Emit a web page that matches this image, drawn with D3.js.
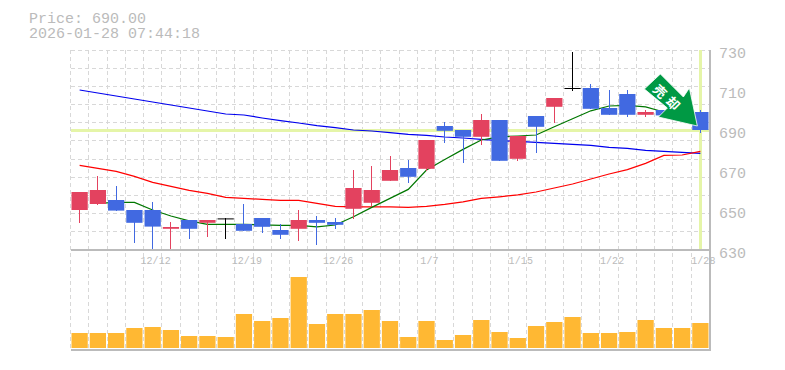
<!DOCTYPE html>
<html>
<head>
<meta charset="utf-8">
<script src="https://cdn.jsdelivr.net/npm/d3@7/dist/d3.min.js"></script>
<style>
html,body{margin:0;padding:0;background:#fff;overflow:hidden}
svg{display:block}
text{font-family:"Liberation Mono",monospace;fill:#bbb}
</style>
</head>
<body>
<svg width="785" height="370"></svg>
<script>
var opens  = [650,653,655,650,650,640.6,645,643.6,645.8,643,646,640,640.6,645,644,650.6,653.6,664.6,671,670.6,692,690,686.6,695,675.6,697,701.6,711,711,701,708,697.6,700,698,699];
var closes = [659,660,649.7,643.6,641.7,641.5,640.6,645,645.8,639.6,641.6,637.6,645,643.6,642.6,661,660,670,666.6,685,689.6,686.6,695,674.6,687,691.6,706,711,700.6,697.6,697.6,699,697.3,696,690];
var highs  = [659,667,662,650,654,644,645,645,645.8,653,646,643,650,647,646,670,672,677,675,685,694,690,698,695,687,697,706,729,713,710,710,700,700,699,700];
var lows   = [643.6,652.5,649.7,633.6,630.6,630.6,635.6,636.6,635.6,639.6,638.6,635.6,634.6,632.6,640.6,645.6,652,664.6,663.6,669.5,683.6,673.6,682.6,674.6,674.6,678.6,693.6,709.6,700.6,697.6,696.6,696.6,697,695,688.6];
var maShort = [null,653.3,653.8,653.8,650,647,644.6,642.8,642.8,642.8,642.6,642.3,642.3,641.6,642.5,646.6,651.3,655.8,660.3,670,675.3,680.3,685,686.6,687,687.5,691.6,695.6,699.6,702,702.3,701.6,699,698,697];
var maMid   = [672.3,670.8,669.3,666.8,663.8,661.8,659.8,658.3,656.3,655.8,655.3,654.8,654.8,653.3,651.8,651.6,651.6,651.6,651.3,651.8,652.8,654.1,655.8,656.6,657.6,659,661,663,665.5,668,670.2,673.3,677.3,677.5,679.3];
var maLong  = [710,708.5,707,705.5,704,702.5,701,699.5,698,697.5,696,694.7,693.5,692.2,691.2,690,689.5,688.7,687.8,687.3,686.5,686,685.3,684.7,684.3,683.8,683.3,682.8,682.3,681.3,680.8,679.8,679.3,678.8,678.3];
var volumes = [15,15,15,20,21,18,12,12,11,34,27,30,71,24,34,34,38,27,11,27,8,13,28,16,10,22,26,31,15,15,16,28,20,20,25];
var tickBars = [4,9,14,19,24,29,34];
var tickLabels = ["12/12","12/19","12/26","1/7","1/15","1/22","1/28"];
var priceTicks = [630,650,670,690,710,730];
var priceNow = 690;
var titleLines = ["Price: 690.00","2026-01-28 07:44:18"];
var signalText = ["売","却"];

var svg = d3.select("svg");
var plotLeft = 70.5, plotRight = 709.5, plotTop = 50, plotMid = 250, plotBottom = 350;

var x = d3.scaleBand().domain(d3.range(opens.length)).range([plotLeft,plotRight]).paddingInner(0.11).paddingOuter(0.055);
var step = x.step();
var y = d3.scaleLinear().domain([630,730]).range([plotMid,plotTop]);
var yVol = d3.scaleLinear().domain([0,98]).range([plotBottom-2,plotMid]);
var cx = function(i){return x(i)+x.bandwidth()/2;};

// grid
var gridX = d3.range(opens.length+1).map(function(i){return plotLeft+i*step;});
var gridY = d3.range(11).map(function(i){return plotTop+i*(plotMid-plotTop)/11;});
var grid = svg.append("g").attr("stroke","#d8d8d8").attr("stroke-dasharray","4,3").attr("shape-rendering","crispEdges");
grid.selectAll(".gx").data(gridX).enter().append("line").attr("x1",function(d){return d;}).attr("x2",function(d){return d;}).attr("y1",plotTop).attr("y2",plotBottom);
grid.selectAll(".gy").data(gridY).enter().append("line").attr("x1",plotLeft).attr("x2",plotRight).attr("y1",function(d){return d;}).attr("y2",function(d){return d;});

// current price cross
var cross = svg.append("g").attr("stroke","#e5f5a8").attr("stroke-width",3).attr("shape-rendering","crispEdges");
cross.append("line").attr("x1",plotLeft).attr("x2",plotRight).attr("y1",y(priceNow)).attr("y2",y(priceNow));
cross.append("line").attr("x1",cx(opens.length-1)).attr("x2",cx(opens.length-1)).attr("y1",plotTop).attr("y2",plotMid);

// frame
var frame = svg.append("g").attr("stroke","#bbb").attr("stroke-width",1.5).attr("shape-rendering","crispEdges");
frame.append("line").attr("x1",plotLeft).attr("x2",plotRight+1).attr("y1",plotMid).attr("y2",plotMid);
frame.append("line").attr("x1",plotLeft).attr("x2",plotRight+1).attr("y1",plotBottom).attr("y2",plotBottom);
frame.append("line").attr("x1",plotRight+0.5).attr("x2",plotRight+0.5).attr("y1",plotTop).attr("y2",plotBottom);

// moving averages
[[maLong,"#0000ee"],[maMid,"#ff0000"],[maShort,"#007700"]].forEach(function(s){
    var line = d3.line().defined(function(d){return d!==null;}).x(function(d,i){return cx(i);}).y(function(d){return y(d);});
    svg.append("path").datum(s[0]).attr("fill","none").attr("stroke",s[1]).attr("stroke-width",1.2).attr("d",line);
});

// candles
var color = function(i){
    if(opens[i]===closes[i]) return "#000";
    return closes[i]>opens[i] ? "#e3425f" : "#4169e1";
};
var candles = svg.append("g").selectAll("g").data(d3.range(opens.length)).enter().append("g");
candles.append("line").attr("shape-rendering","crispEdges")
    .attr("x1",cx).attr("x2",cx)
    .attr("y1",function(i){return y(highs[i]);}).attr("y2",function(i){return y(lows[i]);})
    .attr("stroke",color).attr("stroke-width",1);
candles.append("rect")
    .attr("x",function(i){return x(i);})
    .attr("width",x.bandwidth())
    .attr("y",function(i){return y(Math.max(opens[i],closes[i]));})
    .attr("height",function(i){return Math.max(1,Math.abs(y(opens[i])-y(closes[i])));})
    .attr("fill",color);

// volume
svg.append("g").selectAll("rect").data(volumes).enter().append("rect")
    .attr("x",function(d,i){return x(i);})
    .attr("width",x.bandwidth())
    .attr("y",function(d){return yVol(d);})
    .attr("height",function(d){return yVol(0)-yVol(d);})
    .attr("fill","#ffb833");

// axes text
svg.append("g").selectAll("text").data(priceTicks).enter().append("text")
    .attr("x",719).attr("y",function(d){return y(d)+8;})
    .attr("font-size",15).text(function(d){return d;});
svg.append("g").selectAll("text").data(tickBars).enter().append("text")
    .attr("x",function(d){return cx(d)+3;}).attr("y",plotMid+14).attr("text-anchor","middle")
    .attr("font-size",10).style("letter-spacing","0.1px").text(function(d,i){return tickLabels[i];});
svg.append("g").selectAll("text").data(titleLines).enter().append("text")
    .attr("x",29).attr("y",function(d,i){return 23+i*15;})
    .attr("font-size",15).text(function(d){return d;});

// sell signal arrow, placed from the last bar
var ax = cx(opens.length-1), ay = y(priceNow);
var signal = svg.append("g").attr("transform","translate("+ax+","+ay+")");
signal.append("path")
    .attr("d","M-56,-41 L-40,-56 L-17,-33 L-11,-42 L-3,-4 L-42,-13 L-33,-22 Z")
    .attr("fill","#009944").attr("stroke","#fff").attr("stroke-width",0.8);
signal.selectAll("text").data(signalText).enter().append("text")
    .attr("transform",function(d,i){return "translate("+(-40+i*13)+","+(-39+i*12)+") rotate(45)";})
    .attr("text-anchor","middle").attr("dominant-baseline","central")
    .attr("font-size",13).attr("font-weight","bold")
    .style("font-family","'Noto Sans CJK JP'").style("fill","#fff")
    .text(function(d){return d;});
</script>
</body>
</html>
